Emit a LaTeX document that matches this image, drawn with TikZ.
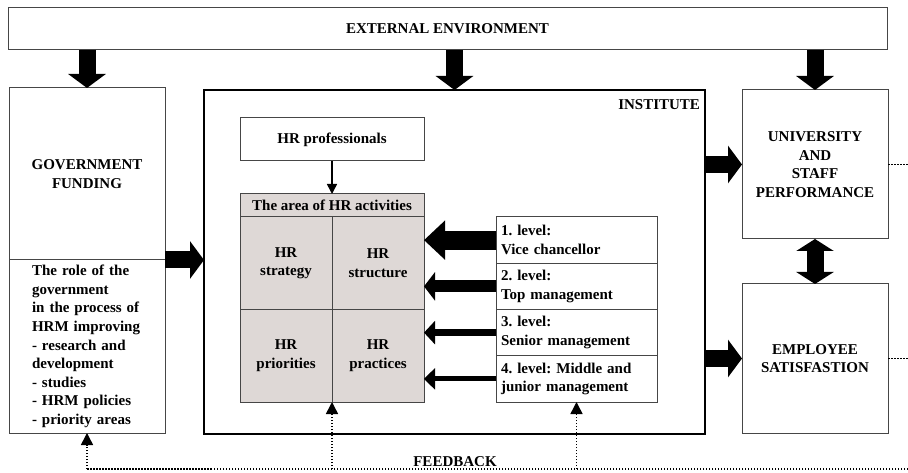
\documentclass[tikz,border=0pt]{standalone}
\usepackage{fontspec}
\setmainfont{Liberation Serif}
\usepackage{xcolor}
\usetikzlibrary{arrows.meta,positioning}
\definecolor{hrline}{RGB}{70,70,70}
\definecolor{hrfill}{RGB}{222,216,214}

\begin{document}
\begin{tikzpicture}[x=1pt, y=-1pt,
      every node/.style={font=\fontsize{15}{18.6}\selectfont\bfseries\frenchspacing, inner sep=0pt, outer sep=0pt},
      box/.style={draw=hrline, line width=1pt, align=center},
      cell/.style={box, fill=hrfill, minimum width=92pt, minimum height=92.5pt},
      lvl/.style={box, align=left, text width=151pt, inner xsep=5pt, minimum height=46.25pt},
      blk/.style={line width=17pt, -{Triangle[length=14pt, width=37pt]}},
      lvarr/.style={line width=#1, -{Triangle[length=11pt, width=#1+16pt]}},
      fb/.style={line width=1.5pt, dash pattern=on 1.5pt off 1.5pt},
      fbarr/.style={fb, -{Triangle[length=12pt, width=12pt]}}
  ]
    \useasboundingbox (0,0) rectangle (908,473);
    \node[box, minimum width=879pt, minimum height=42pt, anchor=north west] (ext) at (8,8) {EXTERNAL ENVIRONMENT};

    % government side
    \node[box, minimum width=156pt, minimum height=172pt, anchor=north west] (govtop) at (9,88) {GOVERNMENT\\FUNDING};
    \node[box, align=left, text width=110pt, inner xsep=23pt, minimum height=173pt, below=0pt of govtop] (govrole)
      {The role of the\\government\\in the process of\\HRM improving\\- research and\\development\\- studies\\- HRM policies\\- priority areas};

    % institute
    \node[draw, line width=2.5pt, minimum width=501pt, minimum height=344pt, anchor=north west] (inst) at (204,90) {};
    \node[anchor=east] (insttxt) at (700,105) {INSTITUTE};
    \node[box, minimum width=184pt, minimum height=43pt, anchor=north west] (prof) at (240,118) {HR professionals};
    \node[box, fill=hrfill, minimum width=184pt, minimum height=23pt, anchor=north west] (atitle) at (240,194) {The area of HR activities};
    \node[cell, below right=0pt and 0pt of atitle.south west] (strat) {HR\\strategy};
    \node[cell, right=0pt of strat] (strc) {HR\\structure};
    \node[cell, below=0pt of strat] (prio) {HR\\priorities};
    \node[cell, right=0pt of prio] (prac) {HR\\practices};
    \node[lvl, anchor=north west] (lv1) at (496,217) {1. level:\\Vice chancellor};
    \node[lvl, below=0pt of lv1] (lv2) {2. level:\\Top management};
    \node[lvl, below=0pt of lv2] (lv3) {3. level:\\Senior management};
    \node[lvl, below=0pt of lv3] (lv4) {4. level: Middle and\\junior management};

    % results
    \node[box, minimum width=146pt, minimum height=149pt, anchor=north west] (univ) at (742,90) {UNIVERSITY\\AND\\STAFF\\PERFORMANCE};
    \node[box, minimum width=146pt, minimum height=149pt, anchor=north west] (emp) at (742,284) {EMPLOYEE\\SATISFASTION};

    \draw[blk] (ext.south -| govtop.north) -- (govtop.north);
    \draw[blk] (ext.south -| inst.north) -- (inst.north);
    \draw[blk] (ext.south -| univ.north) -- (univ.north);
    \draw[blk] (govtop.south east) -- (govtop.south east -| inst.west);
    \draw[blk] (univ.west -| inst.east) -- (univ.west);
    \draw[blk] (emp.west -| inst.east) -- (emp.west);
    \draw[line width=17pt, {Triangle[length=12pt, width=37pt]}-{Triangle[length=12pt, width=37pt]}] (univ.south) -- (emp.north);
    \draw[line width=1.5pt, -{Triangle[length=10pt, width=10pt]}] (prof.south) -- (atitle.north);

    \draw[line width=19pt, -{Triangle[length=21pt, width=38pt]}] (lv1.west) -- (lv1.west -| strc.east);
    \draw[lvarr=12pt] (lv2.west) -- (lv2.west -| strc.east);
    \draw[lvarr=7pt] (lv3.west) -- (lv3.west -| strc.east);
    \draw[lvarr=5pt] (lv4.west) -- (lv4.west -| strc.east);

    % feedback loop
    \coordinate (fbR) at (908,469);
    \draw[fb] (fbR) -- (fbR -| govtop.south);
    \draw[fbarr] (govrole.south |- fbR) -- (govrole.south);
    \draw[fbarr] (strat.south east |- fbR) -- (prio.south east);
    \draw[fbarr] (lv4.south |- fbR) -- (lv4.south);
    \draw[fb] (univ.east) -- (univ.east -| fbR);
    \draw[fb] (emp.east) -- (emp.east -| fbR);
    \node (fbtxt) at (455,461.5) {FEEDBACK};
\end{tikzpicture}
\end{document}
